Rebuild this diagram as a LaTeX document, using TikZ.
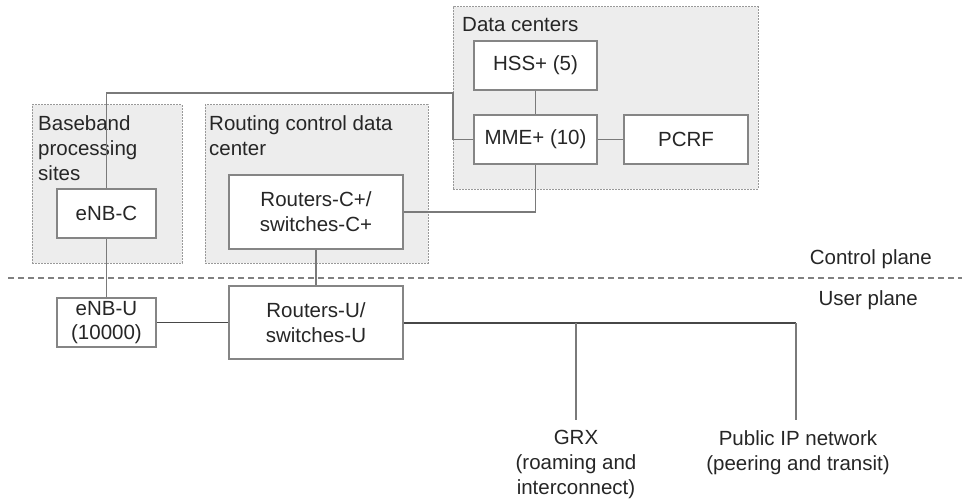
\documentclass[tikz,border=0pt]{standalone}
\usepackage{fontspec}
\setmainfont{Liberation Sans}
\begin{document}
\begin{tikzpicture}[x=1pt, y=-1pt,
    every node/.style={font=\fontsize{20.5}{25}\selectfont, text=black!85},
    box/.style={draw=black!48, fill=white, line width=1.5pt, align=center, inner sep=0pt},
    site/.style={draw=black!40, dash pattern=on 2pt off 1pt, fill=black!7, line width=1pt, inner sep=0pt},
    sitelabel/.style={anchor=north west, align=left, inner sep=0pt},
    link/.style={draw=black!52, line width=1.6pt},
    ulink/.style={draw=black!72, line width=1.6pt}]
    \useasboundingbox (0,0) rectangle (962,503);
    \node[site, minimum width=305, minimum height=182] (dc) at (605.5,98) {};
    \node[site, minimum width=150, minimum height=158] (bb) at (107,184) {};
    \node[site, minimum width=223, minimum height=158] (rcdc) at (316.5,184) {};
    \node[sitelabel] (dclab) at (462,17) {Data centers};
    \node[sitelabel] (bblab) at (38,115) {Baseband\\processing\\sites};
    \node[sitelabel] (rcdclab) at (209,115) {Routing control data\\center};
    \node[box, minimum width=123, minimum height=49] (hss) at (535.5,65.5) {HSS+ (5)};
    \node[box, minimum width=123, minimum height=49] (mme) at (535.5,139.5) {MME+ (10)};
    \node[box, minimum width=124, minimum height=49] (pcrf) at (686,139.5) {PCRF};
    \node[box, minimum width=99, minimum height=49] (enbc) at (106.5,213.5) {eNB-C};
    \node[box, minimum width=174, minimum height=74] (rc) at (316,212) {Routers-C+/\\switches-C+};
    \node[box, minimum width=99, minimum height=49] (enbu) at (106.5,322.5) {eNB-U\\[-1pt](10000)};
    \node[box, minimum width=174, minimum height=73] (ru) at (316,322.5) {Routers-U/\\switches-U};
    \node[anchor=base east, inner sep=0pt] (cp) at (932,264) {Control plane};
    \node[anchor=base east, inner sep=0pt] (up) at (918,305) {User plane};
    \node[anchor=north, align=center, inner sep=0pt] (grx) at (576,430) {GRX\\(roaming and\\interconnect)};
    \node[anchor=north, align=center, inner sep=0pt] (pub) at (798,430) {Public IP network\\(peering and transit)};
    \coordinate (sepl) at (8,278);
    \coordinate (sepr) at (962,278);
    \coordinate (bend) at (453,93);
    \coordinate (grxtap) at (576,323);
    \coordinate (pubtap) at (796,323);
    \draw[black!50, line width=1.1pt, dash pattern=on 6pt off 4pt] (sepl) -- (sepr);
    \draw[link] (enbc.north) -- (enbc.north |- bend) -- (bend) |- (mme.west);
    \draw[link] (rc.east) -| (mme.south);
    \draw[link] (hss) -- (mme);
    \draw[link] (mme) -- (pcrf);
    \draw[link] (enbc) -- (enbu);
    \draw[link] (rc) -- (ru);
    \draw[ulink] (enbu) -- (ru);
    \draw[ulink] (ru.east |- pubtap) -- (pubtap);
    \draw[link] (grxtap) -- ([yshift=10pt]grx.north);
    \draw[link] (pubtap) -- ([yshift=10pt]pubtap |- pub.north);
\end{tikzpicture}
\end{document}
